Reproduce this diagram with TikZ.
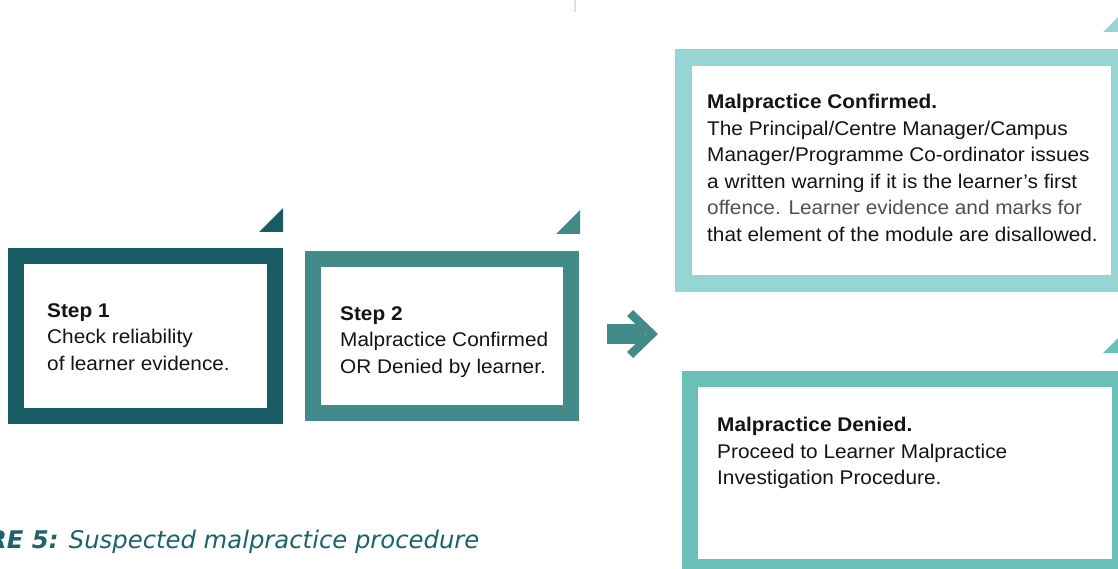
\documentclass[tikz,border=0pt]{standalone}
\usepackage{fontspec}
\setmainfont[FakeStretch=1.05]{Liberation Sans}
\newfontfamily\capfont{DejaVu Sans}
\definecolor{cA}{RGB}{26,92,99}
\definecolor{cB}{RGB}{67,139,139}
\definecolor{cC}{RGB}{151,213,212}
\definecolor{cD}{RGB}{106,191,184}
\definecolor{capcol}{RGB}{26,100,105}
\definecolor{txt}{RGB}{20,20,20}
\definecolor{txtgray}{RGB}{80,80,80}
\begin{document}
\begin{tikzpicture}[x=1pt,y=-1pt,
  framebox/.style={draw=#1,line width=16pt,fill=white,inner sep=0pt,rectangle},
  boxtext/.style={anchor=north west,inner sep=0pt,align=left,text=txt,
    font=\fontsize{19.8}{26.5}\selectfont}]
\useasboundingbox (0,0) rectangle (1118,569);
\begin{scope}
\clip (0,0) rectangle (1118,569);
% faint divider
\draw[gray!25,line width=1.5pt] (575,0) -- (575,12);
% corner triangles
\fill[cA] (283,208) -- (283,232) -- (259,232) -- cycle;
\fill[cB] (580,210) -- (580,234) -- (556,234) -- cycle;
\fill[cC] (1118,17) -- (1118,32) -- (1103,32) -- cycle;
\fill[cD] (1118,338) -- (1118,353) -- (1103,353) -- cycle;
% boxes
\node[framebox=cA,minimum width=259pt,minimum height=160pt] (s1) at (145.5,336) {};
\node[framebox=cB,minimum width=258pt,minimum height=154pt] (s2) at (442,336) {};
\node[framebox=cC,line width=17pt,minimum width=436pt,minimum height=226pt] (conf) at (901.5,170.5) {};
\node[framebox=cD,minimum width=430pt,minimum height=188pt] (den) at (905,473) {};
% texts
\node[boxtext] (t1) at (47,303) {{\bfseries Step 1}\\Check reliability\\of learner evidence.};
\node[boxtext] (t2) at (340,306) {{\bfseries Step 2}\\Malpractice Confirmed\\OR Denied by learner.};
\node[boxtext] (t3) at (707,94) {{\bfseries Malpractice Confirmed.}\\The Principal/Centre Manager/Campus\\Manager/Programme Co-ordinator issues\\a written warning if it is the learner’s first\\\textcolor{txtgray}{offence. Learner evidence and marks for}\\that element of the module are disallowed.};
\node[boxtext] (t4) at (717,417) {{\bfseries Malpractice Denied.}\\Proceed to Learner Malpractice\\Investigation Procedure.};
% arrow
\coordinate (arr) at (607,334);
\fill[cB] (arr) ++(0,-10) rectangle ++(38,20);
\fill[cB] (633,310) -- (658,334) -- (633,358) -- (627,352) -- (646,334) -- (627,316) -- cycle;
% caption
\node[anchor=base west,inner sep=0pt,text=capcol,font=\capfont\fontsize{24.3}{28}\selectfont\itshape] (cap) at (-12,548) {{\bfseries RE 5:} Suspected malpractice procedure};
\end{scope}
\end{tikzpicture}
\end{document}
